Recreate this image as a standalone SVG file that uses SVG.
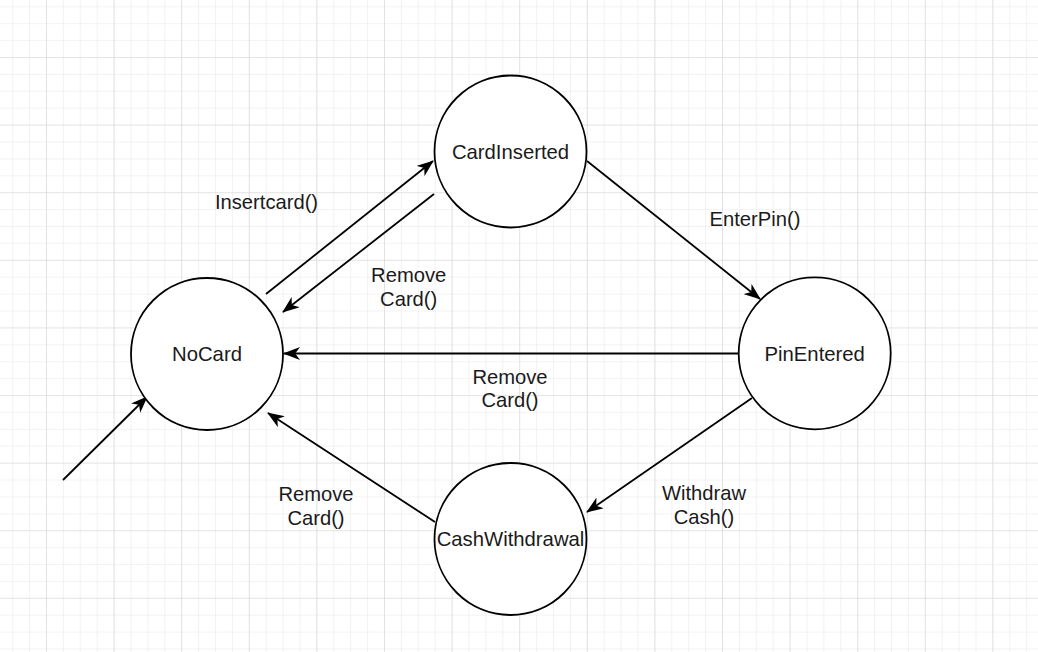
<svg xmlns="http://www.w3.org/2000/svg" width="1038" height="652" viewBox="0 0 1038 652">
  <style>
    .state { fill: #ffffff; stroke: #000000; stroke-width: 1.8; }
    .stext { font-family: "Liberation Sans", Arial, sans-serif; font-size: 20.3px; fill: #1a1a1a; text-anchor: middle; }
    .edge { fill: none; stroke: #000000; stroke-width: 1.8; marker-end: url(#arrow); }
    .ltext { font-family: "Liberation Sans", Arial, sans-serif; font-size: 20.2px; fill: #1a1a1a; text-anchor: middle; }
  </style>
  <defs>
    <pattern id="minor" patternUnits="userSpaceOnUse" x="12.2" y="6.3" width="16.9" height="16.9">
      <path d="M0,0 V16.9 M0,0 H16.9" fill="none" stroke="#efefef" stroke-width="1.6"/>
    </pattern>
    <pattern id="major" patternUnits="userSpaceOnUse" x="46" y="57" width="67.6" height="67.6">
      <path d="M0,0 V67.6 M0,0 H67.6" fill="none" stroke="#d8d8d8" stroke-width="1.2"/>
    </pattern>
    <marker id="arrow" viewBox="0 0 17 13" refX="16" refY="6.5" markerWidth="17" markerHeight="13" markerUnits="userSpaceOnUse" orient="auto">
      <path d="M17,6.5 L0,0 L4.8,6.5 L0,13 Z" fill="#000000"/>
    </marker>
  </defs>
  <rect width="1038" height="652" fill="#ffffff"/>
  <rect width="1038" height="652" fill="url(#minor)"/>
  <rect width="1038" height="652" fill="url(#major)"/>

  <g id="connectors">
    <line class="edge" x1="266" y1="294" x2="433" y2="161"/>
    <line class="edge" x1="434" y1="194" x2="283" y2="312"/>
    <line class="edge" x1="587" y1="161" x2="760" y2="299"/>
    <line class="edge" x1="738" y1="353.5" x2="284" y2="353.5"/>
    <line class="edge" x1="752" y1="398" x2="587" y2="512"/>
    <line class="edge" x1="435" y1="522" x2="268" y2="413"/>
    <line class="edge" x1="63" y1="480" x2="147" y2="397"/>
    <text class="ltext" x="266.5" y="209.3">Insertcard()</text>
    <text class="ltext" x="408.7" y="282.3">Remove</text>
    <text class="ltext" x="408.7" y="305.8">Card()</text>
    <text class="ltext" x="755" y="226">EnterPin()</text>
    <text class="ltext" x="510" y="383.5">Remove</text>
    <text class="ltext" x="510" y="407">Card()</text>
    <text class="ltext" x="316" y="501">Remove</text>
    <text class="ltext" x="316" y="524.5">Card()</text>
    <text class="ltext" x="704" y="500">Withdraw</text>
    <text class="ltext" x="704" y="523.5">Cash()</text>
  </g>

  <g id="CardInserted">
    <circle class="state" cx="510.5" cy="151.5" r="76"/>
    <text class="stext" x="510.5" y="159">CardInserted</text>
  </g>
  <g id="NoCard">
    <circle class="state" cx="207" cy="354" r="76"/>
    <text class="stext" x="207" y="360.7">NoCard</text>
  </g>
  <g id="PinEntered">
    <circle class="state" cx="814.7" cy="353.3" r="76"/>
    <text class="stext" x="814.7" y="360.7">PinEntered</text>
  </g>
  <g id="CashWithdrawal">
    <circle class="state" cx="510.5" cy="539" r="76"/>
    <text class="stext" x="510.5" y="546">CashWithdrawal</text>
  </g>
</svg>
